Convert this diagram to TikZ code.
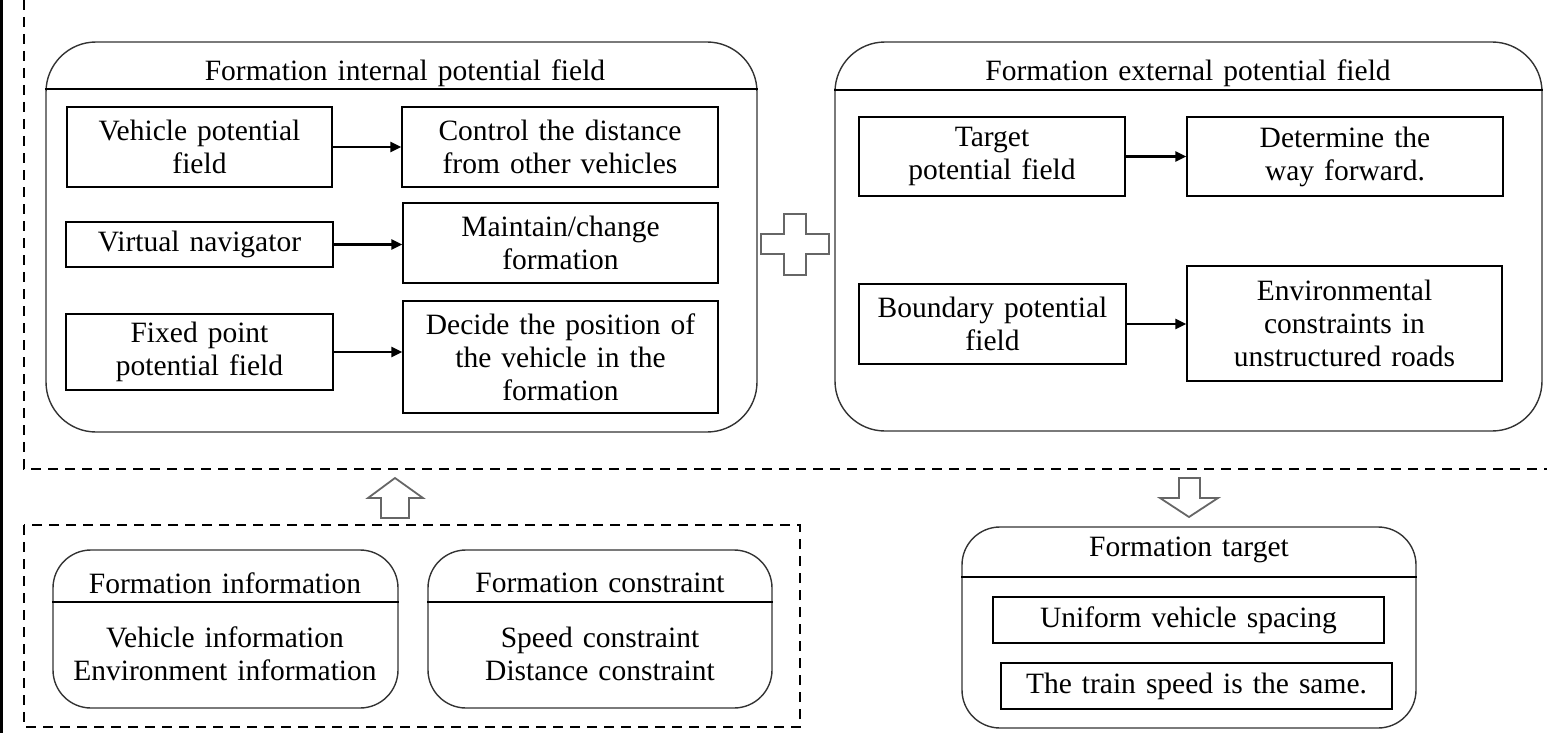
\documentclass[tikz,border=0pt]{standalone}
\usepackage{fontspec}
\setmainfont{Liberation Serif}
\usetikzlibrary{arrows.meta}
\newcommand\diagfont{\fontsize{29.5}{33}\selectfont\spaceskip=0.34em\relax}
\begin{document}
\begin{tikzpicture}[x=1pt,y=-1pt,
  every node/.style={font=\diagfont, align=center, inner sep=0pt},
  box/.style={draw, line width=1.3pt},
  panel/.style={draw=black!80, line width=1.4pt, rounded corners=50pt},
  spanel/.style={draw=black!80, line width=1.4pt, rounded corners=38pt},
  hline/.style={line width=2.8pt},
  arr/.style={-{Triangle[length=11pt,width=10pt]}, line width=2.2pt},
  frame/.style={line width=1.3pt, dash pattern=on 10pt off 7pt},
  bigarrow/.style={draw=black!60, line width=1.8pt, fill=white}]
\useasboundingbox (0,0) rectangle (1547,733);
% left edge line and dashed frames
\draw[line width=2.5pt] (1.5,0) -- (1.5,733);
\draw[frame] (24,0) -- (24,469) -- (1547,469);
\draw[frame] (24,525) rectangle (800,727);

% internal panel
\node[panel, minimum width=711pt, minimum height=390pt] (int) at (401.5,237) {};
\draw[hline] (int.west |- 0,89) -- (int.east |- 0,89);
\node (inth) at (405,73) {Formation internal potential field};
\node[box, minimum width=265pt, minimum height=80pt] (vpf) at (199.5,147) {Vehicle potential\\field};
\node[box, minimum width=316pt, minimum height=80pt] (ctl) at (560,147) {Control the distance\\from other vehicles};
\node[box, minimum width=267pt, minimum height=45pt] (vn) at (199.5,244.5) {Virtual navigator};
\node[box, minimum width=315pt, minimum height=80pt] (mnt) at (560.5,243) {Maintain/change\\formation};
\node[box, minimum width=267pt, minimum height=76pt] (fix) at (199.5,352) {Fixed point\\potential field};
\node[box, minimum width=315pt, minimum height=112pt] (dec) at (560.5,357) {Decide the position of\\the vehicle in the\\formation};
\draw[arr] (vpf.east) -- (vpf.east -| ctl.west);
\draw[arr] (vn.east) -- (vn.east -| mnt.west);
\draw[arr] (fix.east) -- (fix.east -| dec.west);

% plus sign
\draw[bigarrow] (784,214) -- (806,214) -- (806,234) -- (829,234) -- (829,254) -- (806,254) -- (806,275) -- (784,275) -- (784,254) -- (761,254) -- (761,234) -- (784,234) -- cycle;

% external panel
\node[panel, minimum width=707pt, minimum height=389pt] (ext) at (1188.5,236.5) {};
\draw[hline] (ext.west |- 0,90) -- (ext.east |- 0,90);
\node (exth) at (1188,73) {Formation external potential field};
\node[box, minimum width=266pt, minimum height=79pt] (tpf) at (992,156.5) {Target\\potential field};
\node[box, minimum width=316pt, minimum height=79pt] (det) at (1345,156.5) {Determine the\\way forward.};
\node[box, minimum width=267pt, minimum height=80pt] (bpf) at (992.5,324) {Boundary potential\\field};
\node[box, minimum width=315pt, minimum height=115pt] (env) at (1344.5,323.5) {Environmental\\constraints in\\unstructured roads};
\draw[arr] (tpf.east) -- (tpf.east -| det.west);
\draw[arr] (bpf.east) -- (bpf.east -| env.west);

% big arrows
\draw[bigarrow] (395,478) -- (423,498) -- (409,498) -- (409,518) -- (381,518) -- (381,498) -- (368,498) -- cycle;
\draw[bigarrow] (1179,478) -- (1200,478) -- (1200,498) -- (1218,498) -- (1189,517) -- (1160,498) -- (1179,498) -- cycle;

% bottom left panels
\node[spanel, minimum width=345pt, minimum height=158pt] (finf) at (225.5,629) {};
\draw[hline] (finf.west |- 0,602) -- (finf.east |- 0,602);
\node (finfh) at (225,583) {Formation information};
\node (finfb) at (225,654) {Vehicle information\\Environment information};
\node[spanel, minimum width=344pt, minimum height=158pt] (fcon) at (600,629) {};
\draw[hline] (fcon.west |- 0,602) -- (fcon.east |- 0,602);
\node (fconh) at (600,583) {Formation constraint};
\node (fconb) at (600,654) {Speed constraint\\Distance constraint};

% formation target
\node[spanel, minimum width=454pt, minimum height=201pt] (ft) at (1189,627.5) {};
\draw[hline] (ft.west |- 0,577) -- (ft.east |- 0,577);
\node (fth) at (1189,550) {Formation target};
\node[box, minimum width=391pt, minimum height=46pt] (uni) at (1188.5,620) {Uniform vehicle spacing};
\node[box, minimum width=391pt, minimum height=46pt] (trn) at (1196.5,686) {The train speed is the same.};
\end{tikzpicture}
\end{document}
